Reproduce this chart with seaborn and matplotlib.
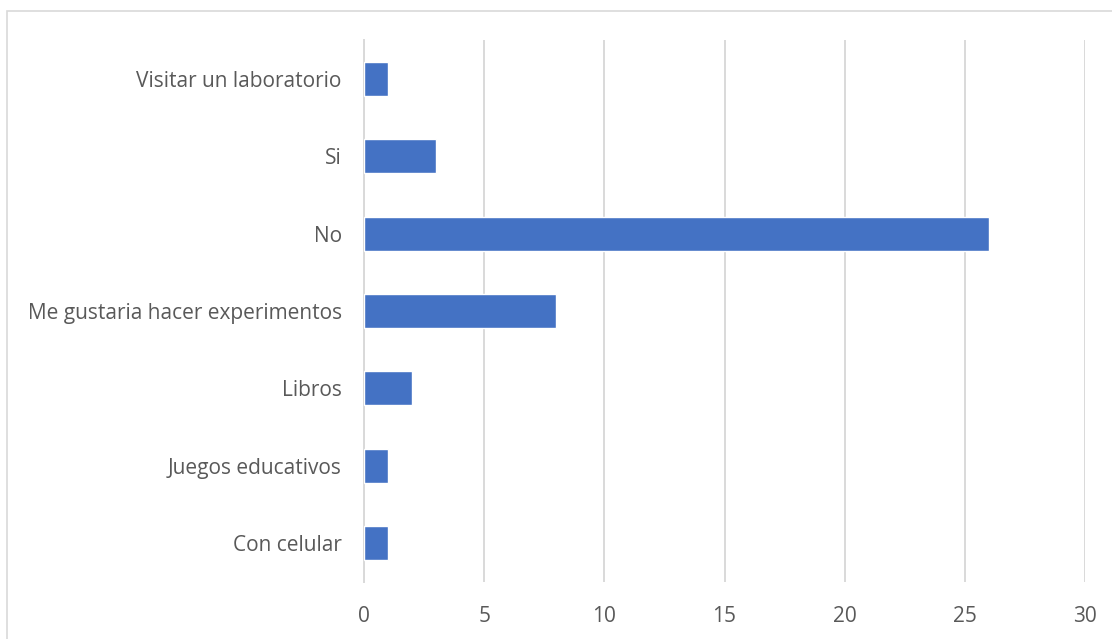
import matplotlib
matplotlib.use("Agg")
import matplotlib.pyplot as plt
import seaborn as sns
import pandas as pd
from matplotlib.patches import Rectangle

categories = [
    "Visitar un laboratorio",
    "Si",
    "No",
    "Me gustaria hacer experimentos",
    "Libros",
    "Juegos educativos",
    "Con celular",
]
values = [1, 3, 26, 8, 2, 1, 1]
x_ticks = [0, 5, 10, 15, 20, 25, 30]

df = pd.DataFrame({"categoria": categories, "valor": values})

sns.set_theme(style="white")
plt.rcParams["font.family"] = ["Open Sans", "DejaVu Sans"]

W, H = 1112, 639
fig = plt.figure(figsize=(W / 100, H / 100), dpi=100)
ax = fig.add_axes([364 / W, (H - 582) / H, (1085 - 364) / W, (582 - 40) / H])

grid_color = "#d9d9d9"
text_color = "#595959"

sns.barplot(data=df, x="valor", y="categoria", orient="h", color="#4472C4",
            width=0.44, saturation=1, ax=ax, zorder=3)

ax.set_xlim(0, 30)
ax.set_ylim(len(categories) - 0.5, -0.5)
ax.set_xticks(x_ticks)
ax.set_xticklabels([str(t) for t in x_ticks], fontsize=15, color=text_color)
ax.tick_params(axis="x", length=0, pad=17)

# category labels at bar centres, tick marks at category boundaries
ax.set_yticks(range(len(categories)))
ax.set_yticklabels(categories, fontsize=15, color=text_color)
ax.tick_params(axis="y", which="major", length=0, pad=16)
ax.set_yticks([i - 0.5 for i in range(len(categories) + 1)], minor=True)
ax.tick_params(axis="y", which="minor", length=7, width=1.3, color=grid_color, direction="out")

ax.set_xlabel("")
ax.set_ylabel("")
ax.xaxis.grid(True, color=grid_color, linewidth=1.4, zorder=0)
ax.yaxis.grid(False)
for side in ["top", "right", "bottom"]:
    ax.spines[side].set_visible(False)
ax.spines["left"].set_color(grid_color)
ax.spines["left"].set_linewidth(1.4)
ax.set_axisbelow(True)

# outer chart frame
fig.patches.append(Rectangle((7 / W, -0.05), 1.2, (H - 11) / H + 0.05,
                             transform=fig.transFigure, fill=False,
                             edgecolor=grid_color, linewidth=1.2))

fig.savefig("out.png", dpi=100)
